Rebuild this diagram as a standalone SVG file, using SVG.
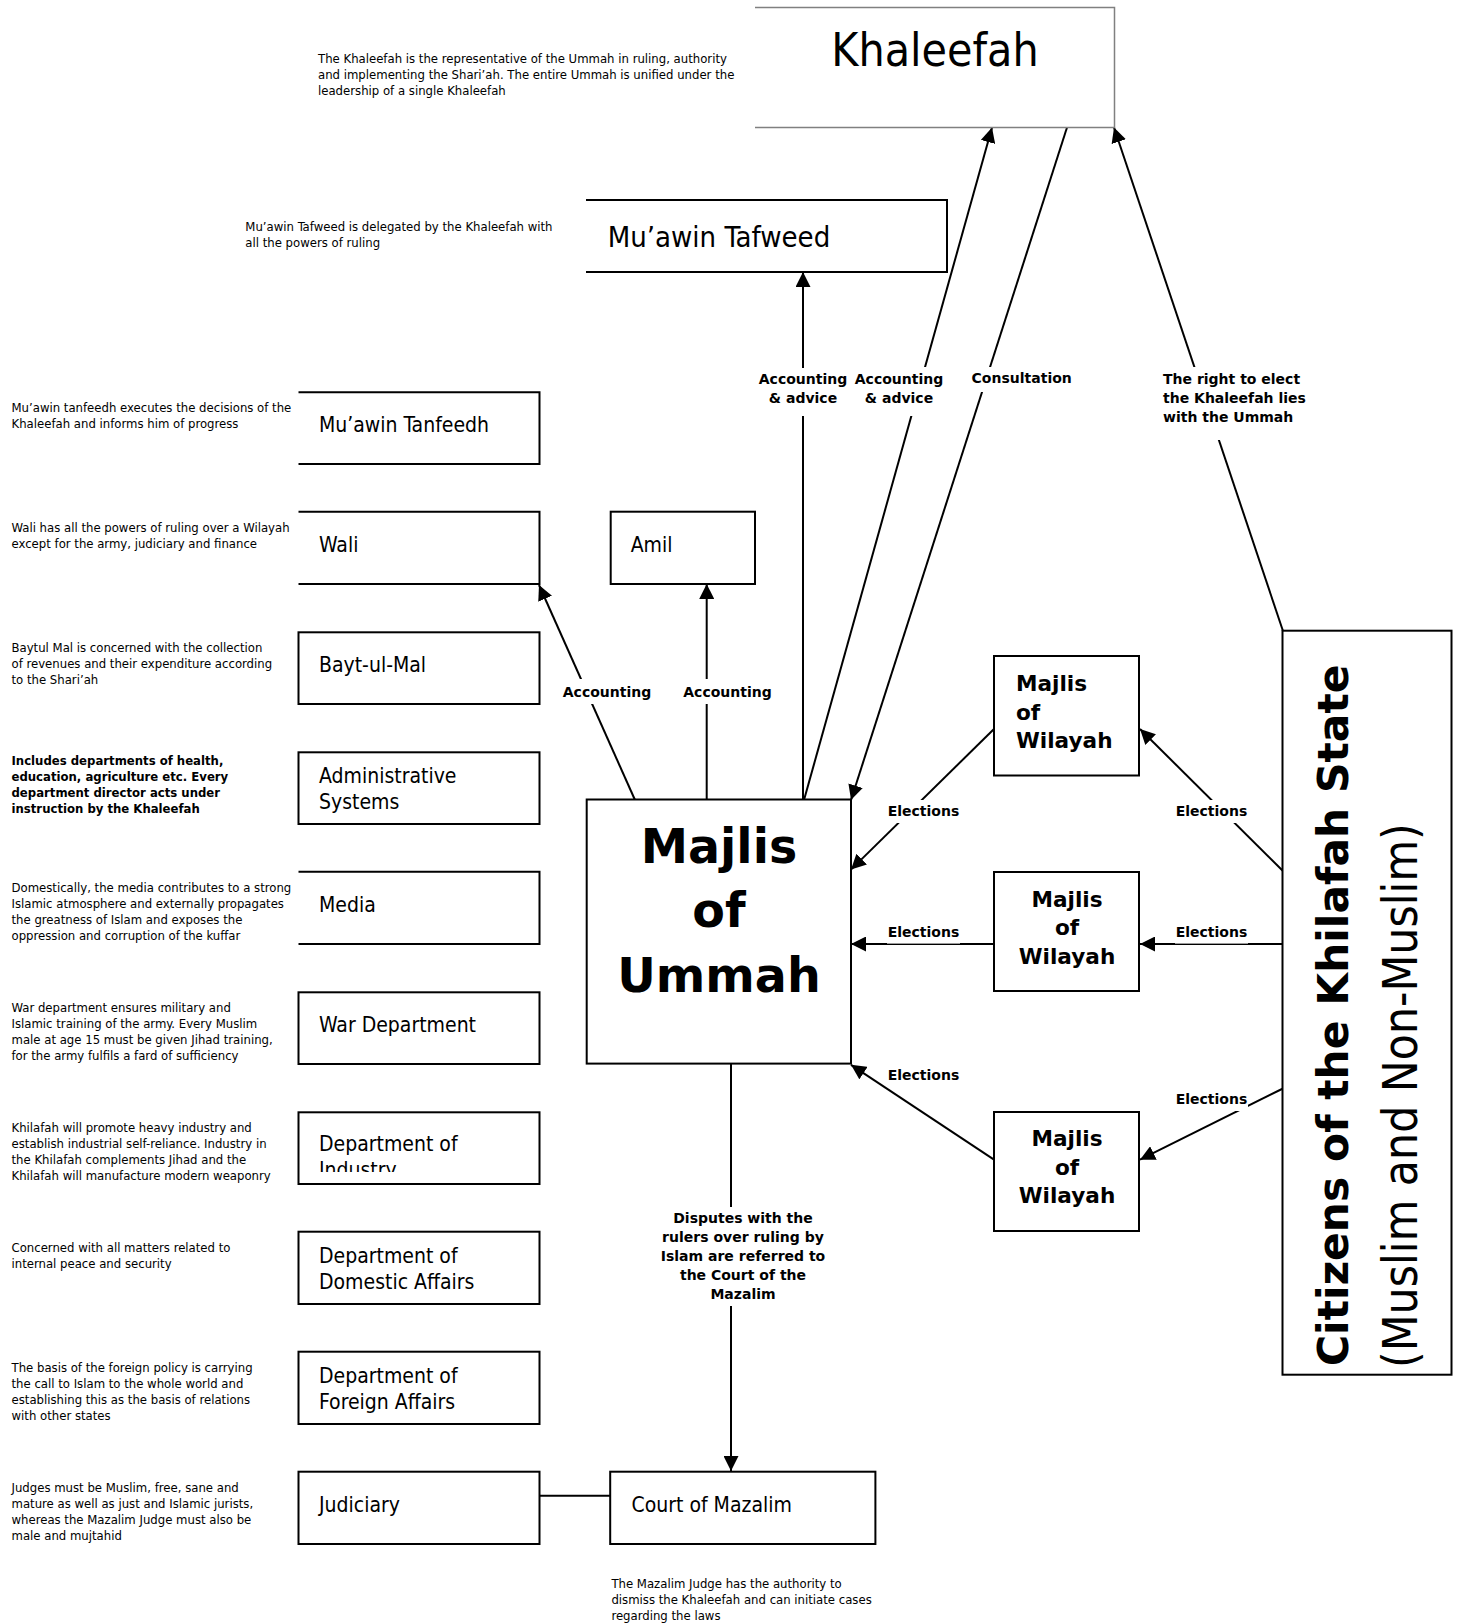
<svg xmlns="http://www.w3.org/2000/svg" width="1457" height="1624" viewBox="0 0 1457 1624">
<style>
.bx{fill:#fff;stroke:#000;stroke-width:2}
.open{fill:none;stroke:#000;stroke-width:2}
.e{stroke:#000;stroke-width:2;fill:none}
.r{font-family:'DejaVu Sans Condensed','Liberation Sans',sans-serif;fill:#000}
.b{font-family:'DejaVu Sans','Liberation Sans',sans-serif;font-weight:bold;fill:#000}
.d{font-size:13px}
.t{font-size:21px}
.l{font-size:14px;text-anchor:middle}
.bg{fill:#fff}
.w{font-size:21.6px}
</style>
<defs>
<marker id="ah" markerUnits="userSpaceOnUse" markerWidth="15" markerHeight="15" refX="15" refY="7.5" orient="auto" viewBox="0 0 15 15"><path d="M0,0 L15,7.5 L0,15 z" fill="#000"/></marker>
<clipPath id="indclip"><rect x="298" y="1112" width="242" height="60"/></clipPath>
</defs>
<rect width="1457" height="1624" fill="#fff"/>

<g id="connectors">
<line class="e" x1="803" y1="800" x2="803" y2="272" marker-end="url(#ah)"/>
<line class="e" x1="804" y1="800" x2="992" y2="127.5" marker-end="url(#ah)"/>
<line class="e" x1="1067" y1="127.5" x2="851" y2="800" marker-end="url(#ah)"/>
<line class="e" x1="1283" y1="631" x2="1114" y2="127.5" marker-end="url(#ah)"/>
<line class="e" x1="635" y1="800" x2="539" y2="585" marker-end="url(#ah)"/>
<line class="e" x1="706.7" y1="800" x2="706.7" y2="584" marker-end="url(#ah)"/>
<line class="e" x1="994" y1="729" x2="851" y2="869.6" marker-end="url(#ah)"/>
<line class="e" x1="1283" y1="871" x2="1140" y2="729" marker-end="url(#ah)"/>
<line class="e" x1="994" y1="944" x2="851" y2="944" marker-end="url(#ah)"/>
<line class="e" x1="1283" y1="944" x2="1140" y2="944" marker-end="url(#ah)"/>
<line class="e" x1="994" y1="1159.7" x2="851" y2="1064.8" marker-end="url(#ah)"/>
<line class="e" x1="1283" y1="1088.5" x2="1140" y2="1159.7" marker-end="url(#ah)"/>
<line class="e" x1="731" y1="1063.6" x2="731" y2="1471" marker-end="url(#ah)"/>
<line class="e" x1="539.6" y1="1495.7" x2="610" y2="1495.7"/>

<rect class="bg" x="758" y="368" width="90" height="48"/>
<text class="b l"><tspan x="803" y="384.3">Accounting</tspan><tspan x="803" y="402.7">&amp; advice</tspan></text>
<rect class="bg" x="855" y="367" width="89" height="49"/>
<text class="b l"><tspan x="899" y="384.3">Accounting</tspan><tspan x="899" y="402.7">&amp; advice</tspan></text>
<rect class="bg" x="970" y="367" width="104" height="25"/>
<text class="b l" x="1021.7" y="383.3">Consultation</text>
<rect class="bg" x="1160" y="367" width="150" height="73"/>
<text class="b" font-size="14px"><tspan x="1163" y="384">The right to elect</tspan><tspan x="1163" y="403">the Khaleefah lies</tspan><tspan x="1163" y="422">with the Ummah</tspan></text>
<rect class="bg" x="562" y="679" width="90" height="25"/>
<text class="b l" x="607" y="696.7">Accounting</text>
<rect class="bg" x="683" y="679" width="90" height="25"/>
<text class="b l" x="727.5" y="696.7">Accounting</text>
<rect class="bg" x="887" y="800" width="73" height="23"/>
<text class="b l" x="923.5" y="816">Elections</text>
<rect class="bg" x="1175" y="800" width="73" height="23"/>
<text class="b l" x="1211.5" y="816">Elections</text>
<rect class="bg" x="887" y="921" width="73" height="22.6"/>
<text class="b l" x="923.5" y="936.6">Elections</text>
<rect class="bg" x="1175" y="921" width="73" height="22.6"/>
<text class="b l" x="1211.5" y="936.6">Elections</text>
<rect class="bg" x="887" y="1064" width="73" height="23"/>
<text class="b l" x="923.5" y="1080">Elections</text>
<rect class="bg" x="1175" y="1088" width="73" height="23"/>
<text class="b l" x="1211.5" y="1104">Elections</text>
<rect class="bg" x="660" y="1207" width="166" height="99"/>
<text class="b l"><tspan x="743" y="1223">Disputes with the</tspan><tspan x="743" y="1242">rulers over ruling by</tspan><tspan x="743" y="1261">Islam are referred to</tspan><tspan x="743" y="1280">the Court of the</tspan><tspan x="743" y="1299">Mazalim</tspan></text>
</g>

<g id="khaleefah">
<path d="M755,7.5 H1114.5 V127.5 H755" fill="none" stroke="#808080" stroke-width="1.5"/>
<text class="r" x="935" y="66" font-size="46px" text-anchor="middle">Khaleefah</text>
<text class="r d"><tspan x="318" y="62.7">The Khaleefah is the representative of the Ummah in ruling, authority</tspan><tspan x="318" y="78.7">and implementing the Shari’ah. The entire Ummah is unified under the</tspan><tspan x="318" y="94.7">leadership of a single Khaleefah</tspan></text>
</g>

<g id="tafweed">
<path class="open" d="M586,200 H947 V272 H586"/>
<text class="r" x="607.7" y="247.3" font-size="29px">Mu’awin Tafweed</text>
<text class="r d"><tspan x="245.3" y="231">Mu’awin Tafweed is delegated by the Khaleefah with</tspan><tspan x="245.3" y="247">all the powers of ruling</tspan></text>
</g>

<g id="tanfeedh">
<path class="open" d="M298.5,392.3 H539.5 V464 H298.5"/>
<text class="r t" x="319" y="431.7">Mu’awin Tanfeedh</text>
<text class="r d"><tspan x="11.5" y="412.3">Mu’awin tanfeedh executes the decisions of the</tspan><tspan x="11.5" y="428.3">Khaleefah and informs him of progress</tspan></text>
</g>

<g id="wali">
<path class="open" d="M298.5,511.7 H539.5 V584 H298.5"/>
<text class="r t" x="319" y="551.7">Wali</text>
<text class="r d"><tspan x="11.5" y="532.3">Wali has all the powers of ruling over a Wilayah</tspan><tspan x="11.5" y="548.3">except for the army, judiciary and finance</tspan></text>
</g>

<g id="amil">
<rect class="bx" x="610.7" y="511.7" width="144.3" height="72.3"/>
<text class="r t" x="630.7" y="551.7">Amil</text>
</g>

<g id="baytulmal">
<rect class="bx" x="298.5" y="632.3" width="241" height="71.7"/>
<text class="r t" x="319" y="671.7">Bayt-ul-Mal</text>
<text class="r d"><tspan x="11.5" y="652.3">Baytul Mal is concerned with the collection</tspan><tspan x="11.5" y="668.3">of revenues and their expenditure according</tspan><tspan x="11.5" y="684.3">to the Shari’ah</tspan></text>
</g>

<g id="administrative">
<rect class="bx" x="298.5" y="752.3" width="241" height="71.7"/>
<text class="r t"><tspan x="319" y="783.3">Administrative</tspan><tspan x="319" y="809.3">Systems</tspan></text>
<text class="b" font-size="11.7px"><tspan x="11.5" y="765">Includes departments of health,</tspan><tspan x="11.5" y="781">education, agriculture etc. Every</tspan><tspan x="11.5" y="797">department director acts under</tspan><tspan x="11.5" y="813">instruction by the Khaleefah</tspan></text>
</g>

<g id="media">
<path class="open" d="M298.5,871.7 H539.5 V944 H298.5"/>
<text class="r t" x="319" y="911.7">Media</text>
<text class="r d"><tspan x="11.5" y="892.3">Domestically, the media contributes to a strong</tspan><tspan x="11.5" y="908.3">Islamic atmosphere and externally propagates</tspan><tspan x="11.5" y="924.3">the greatness of Islam and exposes the</tspan><tspan x="11.5" y="940.3">oppression and corruption of the kuffar</tspan></text>
</g>

<g id="war">
<rect class="bx" x="298.5" y="992.3" width="241" height="71.7"/>
<text class="r t" x="319" y="1031.7">War Department</text>
<text class="r d"><tspan x="11.5" y="1012.3">War department ensures military and</tspan><tspan x="11.5" y="1028.3">Islamic training of the army. Every Muslim</tspan><tspan x="11.5" y="1044.3">male at age 15 must be given Jihad training,</tspan><tspan x="11.5" y="1060.3">for the army fulfils a fard of sufficiency</tspan></text>
</g>

<g id="industry">
<rect class="bx" x="298.5" y="1112.3" width="241" height="71.7"/>
<text class="r t" clip-path="url(#indclip)"><tspan x="319" y="1151">Department of</tspan><tspan x="319" y="1177">Industry</tspan></text>
<text class="r d"><tspan x="11.5" y="1132.3">Khilafah will promote heavy industry and</tspan><tspan x="11.5" y="1148.3">establish industrial self-reliance. Industry in</tspan><tspan x="11.5" y="1164.3">the Khilafah complements Jihad and the</tspan><tspan x="11.5" y="1180.3">Khilafah will manufacture modern weaponry</tspan></text>
</g>

<g id="domestic">
<rect class="bx" x="298.5" y="1231.7" width="241" height="72.3"/>
<text class="r t"><tspan x="319" y="1263.3">Department of</tspan><tspan x="319" y="1289.3">Domestic Affairs</tspan></text>
<text class="r d"><tspan x="11.5" y="1252.3">Concerned with all matters related to</tspan><tspan x="11.5" y="1268.3">internal peace and security</tspan></text>
</g>

<g id="foreign">
<rect class="bx" x="298.5" y="1351.7" width="241" height="72.3"/>
<text class="r t"><tspan x="319" y="1383.3">Department of</tspan><tspan x="319" y="1409.3">Foreign Affairs</tspan></text>
<text class="r d"><tspan x="11.5" y="1372.3">The basis of the foreign policy is carrying</tspan><tspan x="11.5" y="1388.3">the call to Islam to  the whole world and</tspan><tspan x="11.5" y="1404.3">establishing this as the basis of relations</tspan><tspan x="11.5" y="1420.3">with other states</tspan></text>
</g>

<g id="judiciary">
<rect class="bx" x="298.5" y="1471.7" width="241" height="72.3"/>
<text class="r t" x="319" y="1511.7">Judiciary</text>
<text class="r d"><tspan x="11.5" y="1492.3">Judges must be Muslim, free, sane and</tspan><tspan x="11.5" y="1508.3">mature as well as just and Islamic jurists,</tspan><tspan x="11.5" y="1524.3">whereas the Mazalim Judge must also be</tspan><tspan x="11.5" y="1540.3">male and mujtahid</tspan></text>
</g>

<g id="court">
<rect class="bx" x="610.2" y="1471.7" width="265.2" height="72.3"/>
<text class="r t" x="631.5" y="1511.7">Court of Mazalim</text>
<text class="r d"><tspan x="611.4" y="1588.3">The Mazalim Judge has the authority to</tspan><tspan x="611.4" y="1604.3">dismiss the Khaleefah and can initiate cases</tspan><tspan x="611.4" y="1620.3">regarding the laws</tspan></text>
</g>

<g id="majlis-ummah">
<rect class="bx" x="586.7" y="799.5" width="264.3" height="264.1"/>
<text class="b" font-size="47.5px" text-anchor="middle"><tspan x="719" y="862.7">Majlis</tspan><tspan x="719" y="926.7">of</tspan><tspan x="719" y="991.7">Ummah</tspan></text>
</g>

<g id="wilayah-1">
<rect class="bx" x="994" y="656" width="145" height="119.5"/>
<text class="b w"><tspan x="1016" y="691">Majlis</tspan><tspan x="1016" y="719.5">of</tspan><tspan x="1016" y="748">Wilayah</tspan></text>
</g>

<g id="wilayah-2">
<rect class="bx" x="994" y="872" width="145" height="119"/>
<text class="b w" text-anchor="middle"><tspan x="1067" y="906.7">Majlis</tspan><tspan x="1067" y="935">of</tspan><tspan x="1067" y="963.5">Wilayah</tspan></text>
</g>

<g id="wilayah-3">
<rect class="bx" x="994" y="1112" width="145" height="119"/>
<text class="b w" text-anchor="middle"><tspan x="1067" y="1146">Majlis</tspan><tspan x="1067" y="1174.5">of</tspan><tspan x="1067" y="1203">Wilayah</tspan></text>
</g>

<g id="citizens">
<rect class="bx" x="1282.5" y="630.7" width="169" height="744"/>
<text class="b" font-size="42.4px" transform="translate(1348,1366) rotate(-90)">Citizens of the Khilafah State</text>
<text class="r" font-size="47.5px" transform="translate(1417,1368) rotate(-90)">(Muslim and Non-Muslim)</text>
</g>
</svg>
